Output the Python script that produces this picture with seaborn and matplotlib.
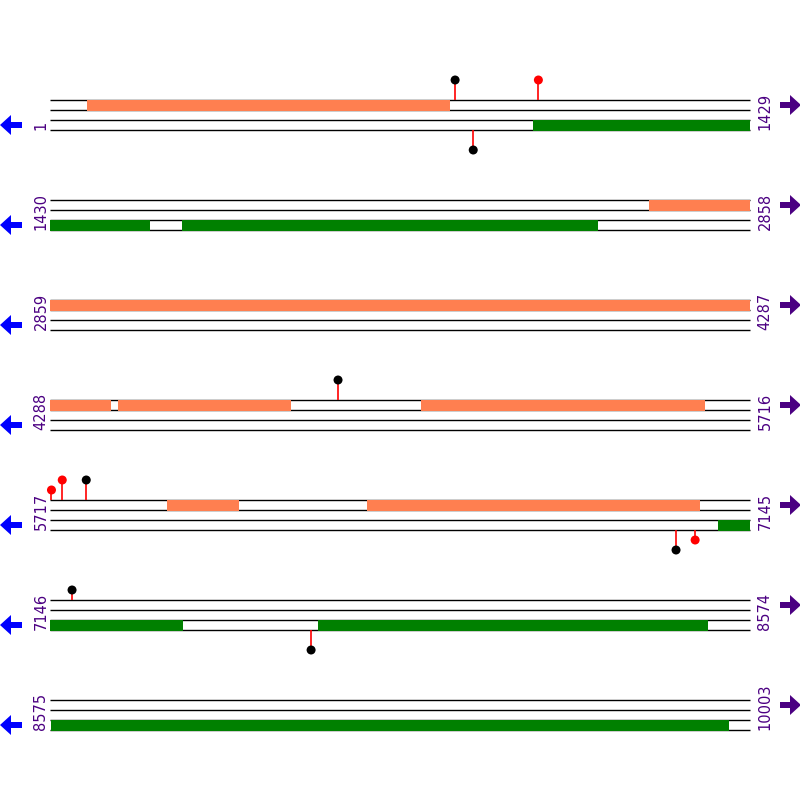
import numpy as np
import pandas as pd
import matplotlib
matplotlib.use("Agg")
import matplotlib.pyplot as plt
from matplotlib.patches import Polygon
import seaborn as sns

# ---------------- data ----------------
row_length = 1429
row_starts = [1, 1430, 2859, 4288, 5717, 7146, 8575]
row_ends = [1429, 2858, 4287, 5716, 7145, 8574, 10003]

# forward strand features (orange, upper track)
fwd_starts = [77, 2653, 4427, 5045, 5956, 6364]
fwd_ends = [817, 4412, 4780, 5625, 6101, 7042]

# reverse strand features (green, lower track)
rev_starts = [988, 1699, 7081, 7693, 8577]
rev_ends = [1634, 2547, 7417, 8489, 9961]

# site markers (lollipops)
site_pos = [828, 998, 865, 4876, 5720, 5742, 5791, 6995, 7034, 7191, 7679]
site_strand = ["+", "+", "-", "+", "+", "+", "+", "-", "-", "+", "-"]
site_level = [2, 2, 2, 2, 1, 2, 2, 2, 1, 1, 2]
site_kind = ["black", "red", "black", "black", "red", "red", "black",
             "black", "red", "black", "black"]

# ---------------- styling ----------------
ORANGE = "#FF7F50"
GREEN = "#008000"
INDIGO = "#4B0082"
BLUE = "#0000FF"
ROW_TOP = 100
ROW_PITCH = 100
LEVEL_PX = 10

sns.set_theme(style="white")
plt.rcParams["font.family"] = ["DejaVu Sans"]

fig = plt.figure(figsize=(8, 8), dpi=100)
ax = fig.add_axes([0, 0, 1, 1])
xl = -50 * row_length / 700
xr = row_length + 50 * row_length / 700
ax.set_xlim(xl, xr)
ax.set_ylim(800, 0)
ax.axis("off")

overlay = fig.add_axes([0, 0, 1, 1])
overlay.set_xlim(0, 800)
overlay.set_ylim(800, 0)
overlay.axis("off")
overlay.patch.set_alpha(0)


def row_y(i):
    return ROW_TOP + ROW_PITCH * i


# track lines
for i, (rs, re_) in enumerate(zip(row_starts, row_ends)):
    y0 = row_y(i)
    ax.hlines([y0, y0 + 10, y0 + 20, y0 + 30], 0, row_length,
              color="black", lw=1.0, zorder=1)


def draw_features(starts, ends, offset, color):
    for s, e in zip(starts, ends):
        for i, (rs, re_) in enumerate(zip(row_starts, row_ends)):
            a = max(s, rs)
            b = min(e, re_)
            if a > b:
                continue
            y0 = row_y(i) + offset
            ax.barh(y0 + 5, (b - a + 1), left=a - rs, height=11,
                    color=color, edgecolor="none", zorder=2)


draw_features(fwd_starts, fwd_ends, 0, ORANGE)
draw_features(rev_starts, rev_ends, 20, GREEN)

# lollipops
rows = []
for p, st, lv, k in zip(site_pos, site_strand, site_level, site_kind):
    i = next(j for j, (rs, re_) in enumerate(zip(row_starts, row_ends)) if rs <= p <= re_)
    x = p - row_starts[i]
    y0 = row_y(i)
    if st == "+":
        base, tip = y0, y0 - lv * LEVEL_PX
    else:
        base, tip = y0 + 30, y0 + 30 + lv * LEVEL_PX
    rows.append(dict(x=x, base=base, y=tip, kind=k))
sites = pd.DataFrame(rows)
ax.vlines(sites["x"], sites["base"], sites["y"], color="red", lw=1.2, zorder=3)
sns.scatterplot(data=sites, x="x", y="y", hue="kind",
                palette={"black": "black", "red": "red"},
                s=42, edgecolor="none", legend=False, ax=ax, zorder=4)
ax.set_xlim(xl, xr)
ax.set_ylim(800, 0)
ax.axis("off")

# labels and arrows
for i, (rs, re_) in enumerate(zip(row_starts, row_ends)):
    y0 = row_y(i)
    overlay.text(41, y0 + 30, str(rs), rotation=90, ha="center", va="bottom",
                 color=INDIGO, fontsize=10.5)
    overlay.text(765, y0 + 30, str(re_), rotation=90, ha="center", va="bottom",
                 color=INDIGO, fontsize=10.5)
    yc = y0 + 25
    overlay.add_patch(Polygon([(0, yc), (11, yc - 10), (11, yc - 3), (22, yc - 3),
                               (22, yc + 3), (11, yc + 3), (11, yc + 10)],
                              closed=True, color=BLUE, lw=0))
    yc = y0 + 5
    overlay.add_patch(Polygon([(801, yc), (790, yc - 10), (790, yc - 3), (780, yc - 3),
                               (780, yc + 3), (790, yc + 3), (790, yc + 10)],
                              closed=True, color=INDIGO, lw=0))

fig.savefig("out.png", dpi=100, facecolor="white")
